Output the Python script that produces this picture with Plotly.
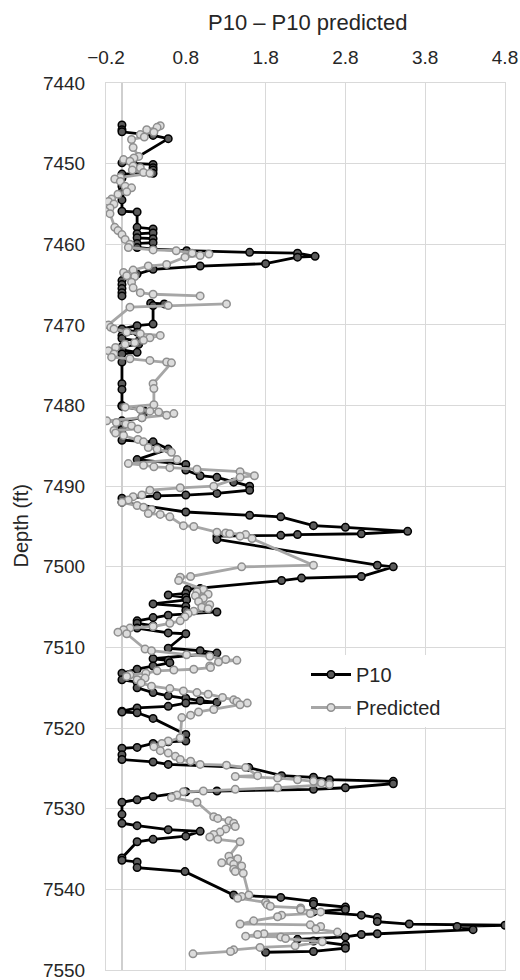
import plotly.graph_objects as go

# ---------------- data ----------------
p10_depth = [
    7445.2, 7445.8, 7446.05, 7446.5, 7446.9, 7449.5, 7449.9, 7450.1, 7450.5, 7450.8,
    7451.2, 7451.3, 7451.8, 7452.8, 7453.5, 7454.5, 7455.9, 7456.0, 7457.9, 7458.1,
    7458.6, 7458.7, 7459.2, 7459.3, 7459.8, 7459.9, 7460.4, 7460.6, 7460.8, 7461.0,
    7461.1, 7461.5, 7461.6, 7462.4, 7462.7, 7463.1, 7463.7, 7464.5, 7465.0, 7465.5,
    7466.0, 7466.4, 7466.8, 7467.3, 7467.4, 7467.6, 7469.9, 7470.1, 7470.5, 7470.9,
    7471.3, 7471.7, 7472.0, 7472.4, 7472.7, 7473.1, 7473.4, 7473.6, 7474.6, 7477.3,
    7478.0, 7480.0, 7480.1, 7480.6, 7481.0, 7481.5, 7481.9, 7482.7, 7483.0, 7484.3,
    7484.5, 7485.4, 7486.7, 7487.3, 7488.0, 7488.7, 7488.9, 7489.5, 7490.0, 7490.5,
    7490.9, 7491.1, 7491.2, 7491.5, 7492.0, 7493.2, 7493.6, 7493.8, 7494.9, 7495.1,
    7495.6, 7495.9, 7496.0, 7496.1, 7496.2, 7496.6, 7499.8, 7500.0, 7501.2, 7501.4,
    7501.7, 7502.7, 7502.8, 7503.3, 7503.5, 7503.8, 7504.1, 7504.6, 7504.9, 7505.4,
    7505.6, 7506.0, 7506.3, 7506.7, 7507.0, 7507.3, 7507.6, 7508.2, 7508.3, 7510.1,
    7510.4, 7510.7, 7511.4, 7511.6, 7511.9, 7512.3, 7512.7, 7513.2, 7514.0, 7514.3,
    7515.0, 7515.6, 7516.0, 7516.3, 7516.6, 7516.8, 7516.9, 7517.3, 7517.5, 7517.9,
    7518.0, 7518.1, 7518.8, 7520.8, 7521.6, 7521.7, 7521.9, 7522.4, 7522.5, 7523.3,
    7523.9, 7524.2, 7524.5, 7524.9, 7525.9, 7526.1, 7526.4, 7526.6, 7526.9, 7527.4,
    7527.6, 7527.8, 7527.9, 7528.5, 7528.9, 7529.2, 7530.7, 7531.8, 7532.1, 7532.6,
    7532.8, 7533.4, 7533.8, 7534.1, 7536.1, 7536.4, 7536.6, 7537.3, 7537.8, 7540.7,
    7541.0, 7541.5, 7541.8, 7542.2, 7542.5, 7542.8, 7543.2, 7543.5, 7544.0, 7544.3,
    7544.45, 7544.6, 7545.0, 7545.5, 7545.6, 7545.9, 7546.2, 7546.4, 7546.9, 7547.3,
    7547.7, 7547.8,
]
p10_value = [
    0.00, 0.00, 0.00, 0.39, 0.58, 0.14, 0.00, 0.39, 0.39, 0.39,
    0.39, 0.00, 0.00, 0.00, 0.00, 0.00, 0.00, 0.19, 0.19, 0.39,
    0.39, 0.19, 0.19, 0.39, 0.39, 0.19, 0.19, 0.39, 0.81, 1.60,
    2.20, 2.42, 2.20, 1.80, 0.98, 0.39, 0.19, 0.00, 0.00, 0.00,
    0.00, 0.00, None, 0.36, 0.53, 0.39, 0.39, 0.19, 0.00, 0.19,
    0.00, 0.00, 0.21, 0.21, 0.00, 0.00, 0.19, 0.00, 0.00, 0.00,
    0.00, 0.00, 0.00, 0.27, 0.27, 0.25, 0.00, 0.00, 0.00, 0.00,
    0.39, 0.58, 0.19, 0.80, 0.80, 0.98, 1.19, 1.40, 1.60, 1.60,
    1.19, 0.80, 0.44, 0.00, 0.00, 0.80, 1.60, 1.99, 2.40, 2.80,
    3.58, 3.00, 2.20, 1.99, 1.19, 1.19, 3.20, 3.40, 3.00, 2.25,
    2.00, 0.98, 0.82, 0.80, 0.58, 0.80, 0.81, 0.39, 0.80, 0.80,
    1.19, 0.58, 0.39, 0.19, 0.19, 0.39, 0.19, 0.58, 0.80, 0.58,
    0.98, 1.19, 0.39, 0.58, 0.60, 0.39, 0.19, 0.00, 0.00, 0.19,
    0.19, 0.39, 0.58, 0.80, 0.98, 1.19, 0.80, 0.58, 0.19, 0.00,
    0.00, 0.19, 0.39, 0.80, 0.80, 0.58, 0.39, 0.19, 0.00, 0.00,
    0.00, 0.39, 0.58, 1.59, 2.00, 2.40, 2.60, 3.40, 3.40, 2.80,
    2.40, 1.19, 0.80, 0.39, 0.19, 0.00, 0.00, 0.00, 0.19, 0.58,
    0.98, 0.80, 0.39, 0.19, 0.00, 0.00, 0.19, 0.19, 0.79, 1.40,
    1.99, 2.40, 2.40, 2.80, 2.80, 2.40, 3.00, 3.20, 3.20, 3.60,
    4.80, 4.20, 4.40, 3.20, 3.00, 2.80, 2.20, 2.40, 2.80, 2.80,
    2.40, 1.80,
]

pred_depth = [
    7445.3, 7445.5, 7445.8, 7446.1, 7446.4, 7446.7, 7447.0, 7448.0, 7449.1, 7449.3,
    7449.5, 7449.7, 7450.3, 7450.5, 7450.8, 7451.1, 7451.2, 7451.7, 7451.9, 7452.2,
    7452.8, 7453.0, 7453.5, 7453.8, 7454.4, 7454.7, 7455.0, 7455.5, 7455.9, 7456.2,
    7457.9, 7458.3, 7458.8, 7459.4, 7460.0, 7460.4, 7460.7, 7460.8, 7461.1, 7461.2,
    7461.4, 7461.6, 7462.5, 7462.7, 7463.2, 7463.5, 7463.9, 7464.0, 7464.7, 7465.4,
    7466.0, 7466.2, 7466.4, 7466.9, 7467.4, 7467.6, 7467.8, 7470.0, 7470.3, 7470.5,
    7470.9, 7471.1, 7471.3, 7471.6, 7471.9, 7472.2, 7472.4, 7472.8, 7473.2, 7473.6,
    7474.0, 7474.2, 7474.4, 7474.6, 7474.7, 7477.3, 7477.9, 7479.9, 7480.2, 7480.5,
    7480.7, 7480.8, 7481.0, 7481.2, 7481.5, 7481.9, 7482.1, 7482.3, 7482.5, 7482.9,
    7483.1, 7483.4, 7483.7, 7484.2, 7484.5, 7485.2, 7485.4, 7485.8, 7486.7, 7487.2,
    7487.4, 7487.6, 7487.7, 7487.9, 7488.2, 7488.7, 7488.9, 7490.0, 7490.2, 7490.5,
    7491.1, 7491.3, 7491.7, 7492.0, 7492.4, 7492.6, 7492.9, 7493.4, 7493.5, 7493.8,
    7494.9, 7495.0, 7495.7, 7495.8, 7495.9, 7496.0, 7496.2, 7496.5, 7499.8, 7500.0,
    7501.2, 7501.3, 7501.7, 7502.8, 7503.1, 7503.4, 7503.6, 7503.9, 7504.3, 7504.7,
    7505.0, 7505.2, 7505.5, 7505.8, 7506.2, 7506.7, 7507.0, 7507.4, 7507.6, 7507.8,
    7508.1, 7508.3, 7510.2, 7510.4, 7510.9, 7511.1, 7511.5, 7511.6, 7511.8, 7512.3,
    7512.5, 7512.7, 7512.8, 7512.9, 7513.2, 7513.4, 7513.6, 7513.8, 7514.0, 7514.4,
    7514.8, 7515.1, 7515.4, 7515.6, 7515.8, 7516.2, 7516.5, 7516.7, 7516.9, 7517.1,
    7517.7, 7518.0, 7518.4, 7518.7, 7521.2, 7521.6, 7521.9, 7522.3, 7522.8, 7523.1,
    7523.5, 7523.9, 7524.1, 7524.5, 7524.6, 7524.9, 7525.9, 7526.0, 7526.2, 7526.4,
    7526.6, 7526.8, 7527.0, 7527.4, 7527.6, 7527.8, 7527.9, 7528.3, 7528.6, 7529.2,
    7531.0, 7531.2, 7531.5, 7531.8, 7532.2, 7532.5, 7532.9, 7533.2, 7533.5, 7533.8,
    7534.1, 7535.9, 7536.2, 7536.5, 7536.7, 7536.9, 7537.1, 7537.5, 7537.8, 7538.0,
    7540.7, 7540.9, 7541.1, 7541.6, 7541.9, 7542.1, 7542.3, 7542.5, 7542.8, 7543.0,
    7543.2, 7543.4, 7543.9, 7544.3, 7544.4, 7544.6, 7544.9, 7545.3, 7545.5, 7545.6,
    7545.8, 7545.9, 7546.1, 7546.5, 7547.0, 7547.2, 7547.5, 7547.7, 7548.0,
]
pred_value = [
    0.48, 0.44, 0.31, 0.40, 0.23, 0.28, 0.12, 0.14, 0.21, 0.15,
    0.02, 0.10, 0.14, 0.23, 0.13, 0.27, 0.35, -0.02, -0.09, -0.02,
    0.04, 0.12, 0.06, -0.05, -0.13, -0.17, -0.10, -0.15, -0.21, -0.15,
    -0.09, -0.05, 0.00, 0.04, 0.10, 0.08, 0.39, 0.68, 0.88, 1.09,
    0.98, 0.79, 0.56, 0.33, 0.14, 0.02, 0.06, 0.16, 0.12, 0.14,
    0.23, 0.39, 0.98, None, 1.31, 0.58, 0.10, -0.17, -0.14, -0.10,
    0.06, 0.23, 0.48, 0.35, 0.27, 0.16, 0.04, -0.08, -0.17, -0.10,
    -0.13, 0.10, 0.35, 0.56, 0.62, 0.39, 0.40, 0.40, 0.04, 0.23,
    0.35, 0.46, 0.65, 0.56, 0.25, -0.19, -0.07, 0.05, 0.12, 0.20,
    -0.10, -0.08, 0.02, 0.20, 0.27, 0.33, 0.44, 0.62, 0.69, 0.08,
    0.27, 0.40, 0.60, 0.94, 1.48, 1.66, 1.48, 1.15, 0.73, 0.35,
    0.25, 0.14, 0.08, 0.00, 0.19, 0.27, 0.37, 0.33, 0.48, 0.60,
    0.77, 0.90, 1.19, 1.30, 1.35, 1.55, 1.48, 1.63, 2.40, 1.50,
    0.86, 0.73, 0.71, 1.02, 0.94, 1.08, 0.92, 1.02, 0.96, 1.10,
    1.00, 1.08, 0.90, 0.83, 0.79, 0.73, 0.60, 0.39, 0.10, 0.02,
    -0.05, 0.06, 0.29, 0.37, 0.81, 1.10, 1.30, 1.44, 1.21, 1.10,
    1.11, 0.90, 0.65, 0.44, 0.30, 0.10, 0.06, 0.29, 0.19, 0.24,
    0.37, 0.60, 0.77, 0.94, 1.08, 1.26, 1.40, 1.44, 1.57, 1.48,
    1.15, 0.96, 0.86, 0.75, 0.73, 0.58, 0.50, 0.40, 0.48, 0.58,
    0.67, 0.73, 0.86, 0.98, 1.31, 1.55, 1.70, 1.42, 1.95, 2.20,
    2.40, 2.50, 2.60, 1.95, 1.42, 1.02, 0.77, 0.69, 0.62, 0.94,
    1.15, 1.20, 1.34, 1.40, 1.42, 1.30, 1.23, 1.15, 1.10, 1.20,
    1.48, 1.34, 1.45, 1.36, 1.25, 1.40, 1.50, 1.40, 1.42, 1.52,
    1.59, 1.50, 1.45, 1.80, 1.82, 1.86, 2.24, 2.24, 2.49, 2.36,
    2.00, 1.95, 1.65, 1.48, 2.36, 2.49, 2.43, 2.70, 1.78, 1.70,
    1.55, 1.99, 2.05, 2.51, 2.17, 1.73, 1.40, 1.36, 0.89,
]

x_tick_vals = [-0.2, 0.8, 1.8, 2.8, 3.8, 4.8]
x_tick_text = ["\u22120.2", "0.8", "1.8", "2.8", "3.8", "4.8"]
y_tick_vals = [7440, 7450, 7460, 7470, 7480, 7490, 7500, 7510, 7520, 7530, 7540, 7550]

x_title = "P10 \u2013 P10 predicted"
y_title = "Depth (ft)"
series_names = ["P10", "Predicted"]

# ---------------- figure ----------------
FONT = "Liberation Sans, Arial, sans-serif"
GRID = "#d9d9d9"

fig = go.Figure()
fig.add_trace(go.Scatter(
    x=p10_value, y=p10_depth, name=series_names[0], mode="lines+markers",
    line=dict(color="#000000", width=2.8),
    marker=dict(size=7.5, color="#5a5a5a", line=dict(color="#000000", width=1.5)),
    connectgaps=False, legendgroup="a",
))
fig.add_trace(go.Scatter(
    x=pred_value, y=pred_depth, name=series_names[1], mode="lines+markers",
    line=dict(color="#a6a6a6", width=2.8),
    marker=dict(size=7.5, color="#dcdcdc", line=dict(color="#8f8f8f", width=1.5)),
    connectgaps=False, legendgroup="b",
))

L, R, T, B = 106, 15, 83, 10
W, H = 520, 980
plot_w = W - L - R
plot_h = H - T - B

fig.update_layout(
    width=W, height=H,
    margin=dict(l=L, r=R, t=T, b=B, pad=0, autoexpand=False),
    paper_bgcolor="white", plot_bgcolor="white",
    font=dict(family=FONT, size=19, color="#262626"),
    showlegend=True,
    legend=dict(
        x=(306 - L) / plot_w, y=1 - (655 - T) / plot_h,
        xanchor="left", yanchor="top",
        bgcolor="white", borderwidth=0,
        font=dict(size=20, color="#262626"),
        itemwidth=40, traceorder="grouped", tracegroupgap=4,
    ),
    xaxis=dict(
        side="top", range=[-0.2, 4.8],
        tickmode="array", tickvals=x_tick_vals, ticktext=x_tick_text,
        showgrid=True, gridcolor=GRID, gridwidth=1,
        zeroline=True, zerolinecolor="#cfcfcf", zerolinewidth=1.5,
        showline=True, mirror=True, linecolor=GRID, linewidth=1,
        ticks="outside", ticklen=10, tickcolor="rgba(0,0,0,0)",
        tickfont=dict(size=19, color="#262626"),
        ticklabeloverflow="allow", automargin=False,
        fixedrange=True,
    ),
    yaxis=dict(
        range=[7550, 7440],
        tickmode="array", tickvals=y_tick_vals,
        showgrid=True, gridcolor=GRID, gridwidth=1,
        zeroline=False,
        showline=True, mirror=True, linecolor=GRID, linewidth=1,
        ticks="outside", ticklen=16, tickcolor="rgba(0,0,0,0)",
        tickfont=dict(size=19, color="#262626"),
        ticklabeloverflow="allow", automargin=False,
        fixedrange=True,
    ),
    annotations=[
        dict(text=x_title, xref="paper", yref="paper",
             x=(307 - L) / plot_w, y=1 + (T - 22) / plot_h,
             xanchor="center", yanchor="middle", showarrow=False,
             font=dict(size=22, color="#262626", family=FONT)),
        dict(text=y_title, xref="paper", yref="paper",
             x=(20 - L) / plot_w, y=0.5, textangle=-90,
             xanchor="center", yanchor="middle", showarrow=False,
             font=dict(size=20, color="#262626", family=FONT)),
    ],
)

fig.write_html("out.html")
